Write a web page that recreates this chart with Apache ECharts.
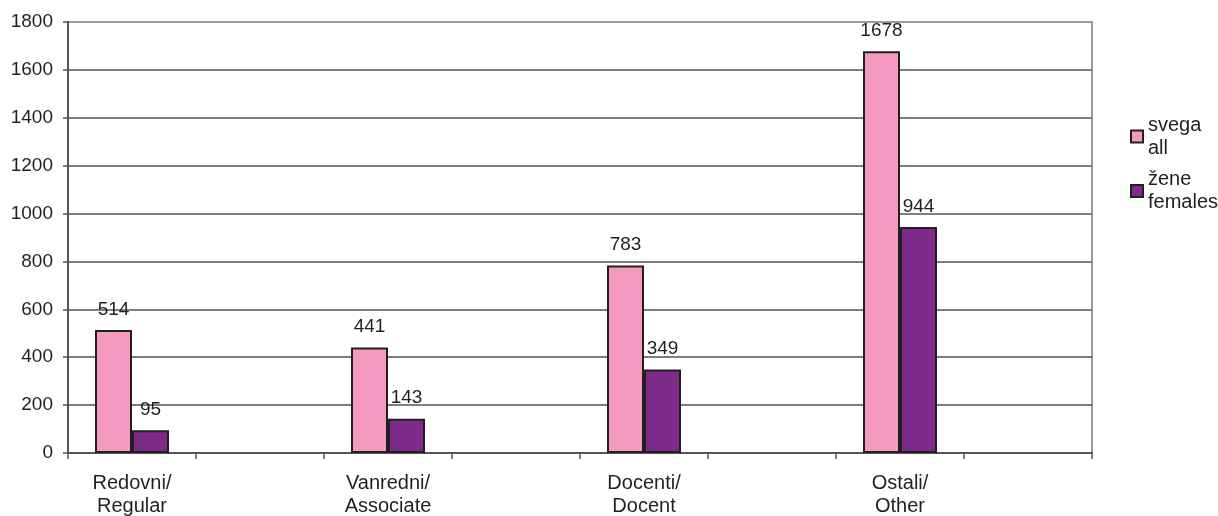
<!DOCTYPE html>
<html>
<head>
<meta charset="utf-8">
<script src="https://cdn.jsdelivr.net/npm/echarts@6/dist/echarts.min.js"></script>
<style>
  html, body { margin: 0; padding: 0; background: #fff; }
  #chart { width: 1218px; height: 516px; }
</style>
</head>
<body>
<div id="chart"></div>
<script>
// ---- data ----
const categories = ['Redovni/\nRegular', 'Vanredni/\nAssociate', 'Docenti/\nDocent', 'Ostali/\nOther'];
const seriesNames = ['svega', 'žene'];
const legendSecondLine = ['all', 'females'];
const allValues = [514, 441, 783, 1678];
const femaleValues = [95, 143, 349, 944];
const yTicks = [0, 200, 400, 600, 800, 1000, 1200, 1400, 1600, 1800];

// Each category is followed by an empty slot (as in the original chart)
const axisCats = [];
const allSlots = [];
const femSlots = [];
categories.forEach((c, i) => {
  axisCats.push(c, '');
  allSlots.push(allValues[i], null);
  femSlots.push(femaleValues[i], null);
});

const textColor = '#231f20';
const font = 'Liberation Sans, Arial, sans-serif';
const fsNum = 19;
const fsText = 20;

const chart = echarts.init(document.getElementById('chart'), null, { renderer: 'canvas' });

const gridColors = yTicks.map((v, i) => i === yTicks.length - 1 ? 'transparent' : '#555');

function legendFor(idx, top) {
  return {
    data: [seriesNames[idx]],
    left: 1130,
    top: top,
    padding: 0,
    orient: 'vertical',
    icon: 'rect',
    itemWidth: 12,
    itemHeight: 12,
    selectedMode: false,
    formatter: (name) => name + '\n' + legendSecondLine[idx],
    textStyle: {
      fontFamily: font,
      fontSize: fsText,
      color: textColor,
      lineHeight: 23,
      padding: [23, 0, 0, 0]
    }
  };
}

chart.setOption({
  animation: false,
  backgroundColor: '#ffffff',
  grid: {
    left: 68, right: 126, top: 22, bottom: 63,
    outerBoundsMode: 'none',
    containLabel: false,
    show: true,
    borderColor: '#9a9a9a',
    borderWidth: 2,
    backgroundColor: 'transparent'
  },
  legend: [legendFor(0, 102), legendFor(1, 156.5)],
  xAxis: {
    type: 'category',
    data: axisCats,
    boundaryGap: true,
    axisLine: { lineStyle: { color: '#555', width: 2 } },
    axisTick: { show: true, interval: 0, length: 6, lineStyle: { color: '#555', width: 1.5 } },
    axisLabel: {
      interval: 0,
      margin: 19,
      fontFamily: font,
      fontSize: fsText,
      lineHeight: 23,
      color: textColor
    },
    splitLine: { show: false }
  },
  yAxis: {
    type: 'value',
    min: 0,
    max: 1800,
    interval: 200,
    axisLine: { show: true, lineStyle: { color: '#555', width: 2 } },
    axisTick: { show: true, length: 5, lineStyle: { color: '#555', width: 1.5 } },
    axisLabel: {
      margin: 15,
      fontFamily: font,
      fontSize: fsNum,
      color: textColor,
      formatter: (v) => String(v)
    },
    splitLine: { show: true, lineStyle: { color: gridColors, width: 1.5 } }
  },
  series: [
    {
      name: seriesNames[0],
      type: 'bar',
      data: allSlots,
      barWidth: 37,
      barGap: '0%',
      itemStyle: { color: '#f49ac1', borderColor: '#231f20', borderWidth: 2 },
      label: {
        show: true, position: 'top', distance: 11,
        fontFamily: font, fontSize: fsNum, color: textColor
      }
    },
    {
      name: seriesNames[1],
      type: 'bar',
      data: femSlots,
      barWidth: 37,
      barGap: '0%',
      itemStyle: { color: '#7d2a88', borderColor: '#231f20', borderWidth: 2 },
      label: {
        show: true, position: 'top', distance: 11,
        fontFamily: font, fontSize: fsNum, color: textColor
      }
    }
  ]
});
</script>
</body>
</html>
